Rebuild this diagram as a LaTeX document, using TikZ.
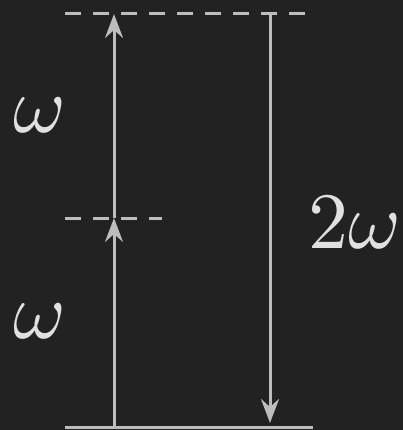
\documentclass[tikz,border=0pt]{standalone}
\usepackage{graphicx}
\usepackage{tikz}
\usetikzlibrary{arrows.meta,positioning}
\definecolor{bg}{HTML}{222222}
\definecolor{ink}{HTML}{BDBDBD}
\definecolor{txt}{HTML}{E0E0E0}
\newcommand{\biglabel}[1]{\scalebox{8}{#1}}
\tikzset{
  level/.style={line width=3pt,draw=ink},
  virtual/.style={level,dash pattern=on 16pt off 12pt},
  photon/.style={-{Stealth[length=24pt,width=18pt,inset=8pt]},line width=3pt,draw=ink},
  lbl/.style={text=txt,inner sep=0pt,anchor=base}
}
\begin{document}
\begin{tikzpicture}[x=1pt,y=-1pt]
  \fill[bg] (0,0) rectangle (403,430);
  \useasboundingbox (0,0) rectangle (403,430);
  % levels
  \coordinate (g0) at (65,427);  \coordinate (g1) at (313,427);
  \coordinate (m0) at (65,218);  \coordinate (m1) at (162,218);
  \coordinate (t0) at (65,14);   \coordinate (t1) at (305,14);
  \draw[level] (g0) -- (g1);
  \draw[virtual] (m0) -- (m1);
  \draw[virtual] (t0) -- (t1);
  % absorption / emission
  \coordinate (a0) at (114,427); \coordinate (a1) at (114,218); \coordinate (a2) at (114,14);
  \coordinate (e0) at (270,14);  \coordinate (e1) at (270,423);
  \draw[photon] (a0) -- (a1);
  \draw[photon] (a1) -- (a2);
  \draw[photon] (e0) -- (e1);
  % labels
  \node[lbl] (w1) at (40,133) {\biglabel{$\omega$}};
  \node[lbl] (w2) at (40,338) {\biglabel{$\omega$}};
  \node[lbl] (w3) at (355,248) {\biglabel{$2\omega$}};
\end{tikzpicture}
\end{document}
